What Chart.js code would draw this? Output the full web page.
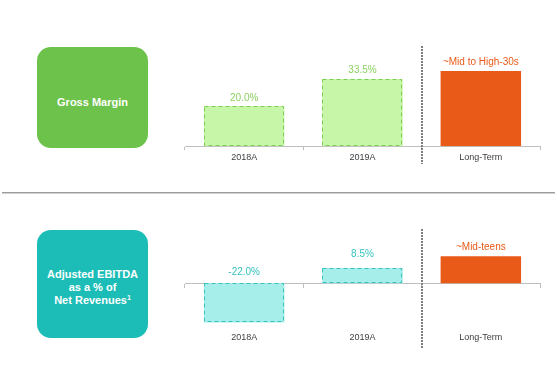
<!DOCTYPE html>
<html>
<head>
<meta charset="utf-8">
<script src="https://cdn.jsdelivr.net/npm/chart.js@4"></script>
<style>
body { margin: 0; background: #fff; font-family: "Liberation Sans", Arial, sans-serif; }
#page { position: relative; width: 557px; height: 367px; overflow: hidden; }
.box {
    position: absolute; left: 37px; width: 111px; border-radius: 14px;
    color: #fff; font-weight: bold; font-size: 11px; line-height: 13px;
    display: flex; align-items: center; justify-content: center; text-align: center;
    box-sizing: border-box;
}
.box sup { font-size: 7px; line-height: 0; vertical-align: 4px; }
#box1 { top: 47px; height: 101px; background: #6CC24A; padding-top: 10px; }
#box2 { top: 230px; height: 108px; background: #1CBDB7; padding-top: 6px; }
#rule { position: absolute; left: 2px; width: 553px; top: 192px; height: 1px; background: #9C9C9C; border-bottom: 1px solid #D0D0D0; }
canvas { position: absolute; }
#gm { left: 170px; top: 40px; }
#eb { left: 170px; top: 225px; }
</style>
</head>
<body>
<div id="page">
    <div class="box" id="box1"><span>Gross Margin</span></div>
    <div class="box" id="box2"><span>Adjusted EBITDA<br>as a % of<br>Net Revenues<sup>1</sup></span></div>
    <div id="rule"></div>
    <canvas id="gm" width="387" height="130"></canvas>
    <canvas id="eb" width="387" height="130"></canvas>
</div>
<script>
// データ
const categories = ['2018A', '2019A', 'Long-Term'];
const grossMarginValues = [20.0, 33.5, 37.5];
const grossMarginLabels = ['20.0%', '33.5%', '~Mid to High-30s'];
const ebitdaValues = [-22.0, 8.5, 15.0];
const ebitdaLabels = ['-22.0%', '8.5%', '~Mid-teens'];

const FONT = '"Liberation Sans", Arial, sans-serif';

// 破線の枠（実績の棒）
const dashedBorders = {
    id: 'dashedBorders',
    afterDatasetsDraw(chart, args, opts) {
        const ctx = chart.ctx;
        const meta = chart.getDatasetMeta(0);
        ctx.save();
        ctx.lineWidth = 1;
        ctx.setLineDash([4, 3]);
        ctx.strokeStyle = opts.color;
        meta.data.forEach((bar, i) => {
            if (!opts.dashed[i]) return;
            const top = Math.min(bar.y, bar.base);
            const h = Math.abs(bar.base - bar.y);
            ctx.strokeRect(Math.round(bar.x - bar.width / 2) + 0.5, Math.round(top) + 0.5,
                Math.round(bar.width) - 1, Math.round(h) - 1);
        });
        ctx.restore();
    }
};

// 棒の上の値ラベル
const valueLabels = {
    id: 'valueLabels',
    afterDatasetsDraw(chart, args, opts) {
        const ctx = chart.ctx;
        const meta = chart.getDatasetMeta(0);
        const zero = chart.scales.y.getPixelForValue(0);
        ctx.save();
        ctx.font = `10px ${FONT}`;
        ctx.textAlign = 'center';
        ctx.textBaseline = 'middle';
        meta.data.forEach((bar, i) => {
            const top = Math.min(bar.y, zero);
            ctx.fillStyle = opts.colors[i];
            ctx.fillText(opts.texts[i], bar.x, top - opts.offsets[i]);
        });
        ctx.restore();
    }
};

// 実績と長期目標の間の点線
const separator = {
    id: 'separator',
    afterDraw(chart, args, opts) {
        const ctx = chart.ctx;
        const x = chart.scales.x;
        const px = Math.round((x.getPixelForValue(1) + x.getPixelForValue(2)) / 2);
        ctx.save();
        ctx.strokeStyle = '#7F7F7F';
        ctx.lineWidth = 2;
        ctx.setLineDash([2, 1]);
        ctx.beginPath();
        ctx.moveTo(px, opts.top);
        ctx.lineTo(px, opts.bottom);
        ctx.stroke();
        ctx.restore();
    }
};

const tickFont = { family: FONT, size: 9 };

// 売上総利益率
new Chart(document.getElementById('gm'), {
    type: 'bar',
    data: {
        labels: categories,
        datasets: [{
            data: grossMarginValues,
            backgroundColor: ['#C8F6A8', '#C8F6A8', '#E95A19'],
            borderWidth: 0,
            barPercentage: 0.68,
            categoryPercentage: 1
        }]
    },
    options: {
        responsive: false,
        animation: false,
        layout: { padding: { left: 15, right: 17, top: 16, bottom: 5 } },
        plugins: {
            legend: { display: false },
            tooltip: { enabled: false },
            dashedBorders: { color: '#7CCF55', dashed: [true, true, false] },
            valueLabels: {
                texts: grossMarginLabels,
                colors: ['#8CD160', '#8CD160', '#E95A19'],
                offsets: [8, 9, 9]
            },
            separator: { top: 6, bottom: 124 }
        },
        scales: {
            x: {
                grid: { drawOnChartArea: false, color: '#BFBFBF', tickLength: 4 },
                border: { color: '#BFBFBF' },
                ticks: { color: '#404040', font: tickFont, padding: 2 }
            },
            y: { display: false, min: 0, max: 45 }
        }
    },
    plugins: [dashedBorders, valueLabels, separator]
});

// 調整後EBITDAマージン
new Chart(document.getElementById('eb'), {
    type: 'bar',
    data: {
        labels: categories,
        datasets: [{
            data: ebitdaValues,
            backgroundColor: ['#A6EEEA', '#A6EEEA', '#E95A19'],
            borderWidth: 0,
            barPercentage: 0.68,
            categoryPercentage: 1
        }]
    },
    options: {
        responsive: false,
        animation: false,
        layout: { padding: { left: 15, right: 17, top: 26, bottom: 6 } },
        plugins: {
            legend: { display: false },
            tooltip: { enabled: false },
            dashedBorders: { color: '#35C4BD', dashed: [true, true, false] },
            valueLabels: {
                texts: ebitdaLabels,
                colors: ['#36C3BC', '#36C3BC', '#E95A19'],
                offsets: [11, 14, 9]
            },
            separator: { top: 4, bottom: 123 }
        },
        scales: {
            x: {
                position: { y: 0 },
                grid: { drawOnChartArea: false, color: '#BFBFBF', tickLength: 4 },
                border: { color: '#BFBFBF' },
                ticks: { display: false }
            },
            x2: {
                type: 'category',
                labels: categories,
                position: 'bottom',
                offset: true,
                grid: { display: false, drawTicks: false },
                border: { display: false },
                ticks: { color: '#404040', font: tickFont, padding: 6 }
            },
            y: { display: false, min: -24, max: 18 }
        }
    },
    plugins: [dashedBorders, valueLabels, separator]
});
</script>
</body>
</html>
